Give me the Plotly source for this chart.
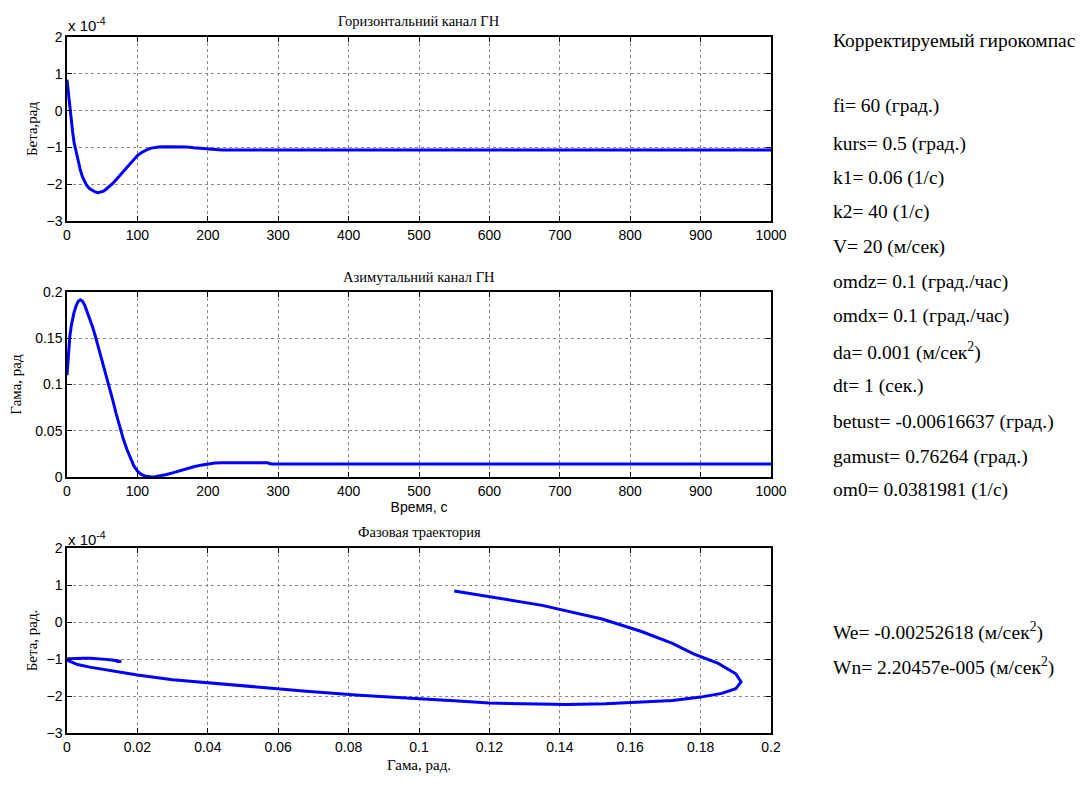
import plotly.graph_objects as go

# ---- data ----
time_s = [0, 2, 4, 6, 8, 10, 13, 16, 19, 22, 25, 28, 32, 36, 40, 44, 48, 52, 56, 60,
          65, 70, 75, 80, 85, 90, 95, 100, 105, 110, 115, 120, 125, 130, 140, 150,
          160, 170, 180, 190, 200, 210, 220, 285, 290, 1000]
beta_x1e4 = [0.84, 0.45, 0.08, -0.25, -0.58, -0.86, -1.12, -1.40, -1.62, -1.80, -1.93,
             -2.03, -2.12, -2.17, -2.21, -2.23, -2.22, -2.19, -2.13, -2.07,
             -1.98, -1.87, -1.76, -1.66, -1.56, -1.43, -1.31, -1.22, -1.15, -1.09,
             -1.05, -1.02, -1.00, -0.99, -0.98, -0.98,
             -0.98, -0.99, -1.01, -1.03, -1.05, -1.07, -1.07, -1.07, -1.07, -1.07]
gamma_rad = [0.110, 0.135, 0.152, 0.163, 0.172, 0.178, 0.185, 0.190, 0.1915, 0.190, 0.186,
             0.180, 0.172, 0.163, 0.153, 0.142, 0.131, 0.120, 0.110, 0.099,
             0.083, 0.068, 0.054, 0.041, 0.030, 0.020, 0.012, 0.0065, 0.003, 0.0012,
             0.0004, 0.0001, 0.0002, 0.0008, 0.0025, 0.0045,
             0.0068, 0.009, 0.011, 0.0128, 0.0142, 0.0152, 0.0154, 0.0154, 0.014, 0.014]

time_ticks = [0, 100, 200, 300, 400, 500, 600, 700, 800, 900, 1000]
beta_ticks = [-3, -2, -1, 0, 1, 2]
gamma_ticks = [0, 0.05, 0.1, 0.15, 0.2]
gamma_tick_text = ["0", "0.05", "0.1", "0.15", "0.2"]
phase_x_ticks = [0, 0.02, 0.04, 0.06, 0.08, 0.1, 0.12, 0.14, 0.16, 0.18, 0.2]
phase_x_text = ["0", "0.02", "0.04", "0.06", "0.08", "0.1", "0.12", "0.14", "0.16", "0.18", "0.2"]

titles = ["Горизонтальний канал ГН", "Азимутальний канал ГН", "Фазовая траектория"]
info_lines = [
    ("Корректируемый гирокомпас", 41),
    ("fi= 60 (град.)", 106),
    ("kurs= 0.5 (град.)", 144),
    ("k1= 0.06 (1/с)", 178),
    ("k2= 40 (1/с)", 212),
    ("V= 20 (м/сек)", 247),
    ("omdz= 0.1 (град./час)", 282),
    ("omdx= 0.1 (град./час)", 316),
    ("da= 0.001 (м/сек<sup>2</sup>)", 351),
    ("dt= 1 (сек.)", 386),
    ("betust= -0.00616637 (град.)", 422),
    ("gamust= 0.76264 (град.)", 457),
    ("om0= 0.0381981 (1/с)", 490),
    ("We= -0.00252618 (м/сек<sup>2</sup>)", 631),
    ("Wn= 2.20457e-005 (м/сек<sup>2</sup>)", 666),
]

# page body has an 8px margin: figure is placed at (8, 8)
OFF = 8
W, H = 1089 - OFF, 787 - OFF
SANS = "Liberation Sans"
SERIF = "Liberation Serif"
BLUE = "#0000FF"

def px_x(px):
    return (px - OFF) / W

def px_y(px):
    return 1 - (px - OFF) / H

fig = go.Figure()
fig.add_trace(go.Scatter(x=time_s, y=beta_x1e4, mode="lines",
                         line=dict(color=BLUE, width=3), xaxis="x", yaxis="y"))
fig.add_trace(go.Scatter(x=time_s, y=gamma_rad, mode="lines",
                         line=dict(color=BLUE, width=3), xaxis="x2", yaxis="y2"))
fig.add_trace(go.Scatter(x=gamma_rad, y=beta_x1e4, mode="lines",
                         line=dict(color=BLUE, width=3), xaxis="x3", yaxis="y3"))

xdom = [px_x(67), px_x(771)]
common = dict(showline=True, linecolor="black", linewidth=1.5, mirror="ticks",
              ticks="inside", ticklen=5, tickcolor="black", automargin=False,
              showgrid=True, gridcolor="#8a8a8a", gridwidth=1, griddash="dot",
              zeroline=False, tickfont=dict(family=SANS, size=14, color="black"))

def ttl(text, fam=SERIF, size=15, standoff=6):
    return dict(text=text, font=dict(family=fam, size=size, color="black"), standoff=standoff)

fig.update_layout(
    width=W, height=H, autosize=False,
    margin=dict(l=0, r=0, t=0, b=0),
    paper_bgcolor="white", plot_bgcolor="white",
    showlegend=False,
    font=dict(family=SANS, color="black"),
    xaxis=dict(domain=xdom, anchor="y", range=[0, 1000], tickvals=time_ticks, **common),
    yaxis=dict(domain=[px_y(221), px_y(37)], anchor="x", range=[-3, 2], tickvals=beta_ticks,
               title=ttl("Бета,рад", standoff=5), **common),
    xaxis2=dict(domain=xdom, anchor="y2", range=[0, 1000], tickvals=time_ticks,
                title=ttl("Время, с", SANS, 14, 4), **common),
    yaxis2=dict(domain=[px_y(477), px_y(292)], anchor="x2", range=[0, 0.2], tickvals=gamma_ticks,
                ticktext=gamma_tick_text, title=ttl("Гама, рад", standoff=13), **common),
    xaxis3=dict(domain=xdom, anchor="y3", range=[0, 0.2], tickvals=phase_x_ticks,
                ticktext=phase_x_text, title=ttl("Гама, рад.", standoff=6), **common),
    yaxis3=dict(domain=[px_y(733), px_y(548)], anchor="x3", range=[-3, 2], tickvals=beta_ticks,
                title=ttl("Бета, рад.", standoff=5), **common),
)

ann = []
for t, ypx in zip(titles, [21, 277, 532]):
    ann.append(dict(text=t, x=px_x(419), y=px_y(ypx), xref="paper", yref="paper",
                    xanchor="center", yanchor="middle", showarrow=False,
                    font=dict(family=SERIF, size=14.5, color="black")))
for ypx in [24, 538]:
    ann.append(dict(text="x 10<sup>-4</sup>", x=px_x(66), y=px_y(ypx), xref="paper", yref="paper",
                    xanchor="left", yanchor="middle", showarrow=False,
                    font=dict(family=SANS, size=15, color="black")))
for txt, ypx in info_lines:
    ann.append(dict(text=txt, x=px_x(831), y=px_y(ypx), xref="paper", yref="paper",
                    xanchor="left", yanchor="middle", showarrow=False,
                    font=dict(family=SERIF, size=19.5, color="black")))
fig.update_layout(annotations=ann)

fig.write_html("out.html")
